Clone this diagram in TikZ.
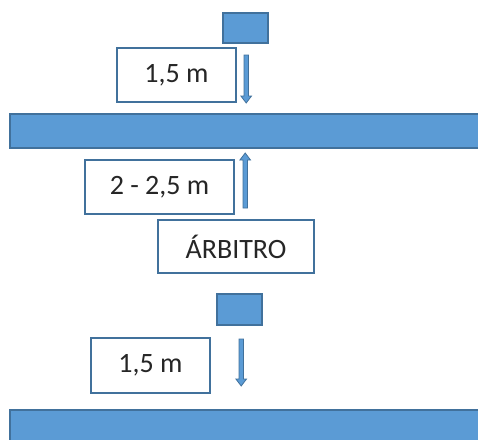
\documentclass[tikz,border=0pt]{standalone}
\usepackage{fontspec}
\setmainfont{Carlito}
\definecolor{bfill}{HTML}{5B9BD5}
\definecolor{bline}{HTML}{41719C}
\begin{document}
\begin{tikzpicture}[x=1pt,y=-1pt,
  solid/.style={fill=bfill,draw=bline,line width=1.2pt},
  lbox/.style={draw=bline,line width=1.2pt,fill=white,font=\fontsize{28}{32}\selectfont,text=black!85}]
\useasboundingbox (0,0) rectangle (478,439);
% top square
\draw[solid] (223,13) rectangle (268,43);
% label box 1
\draw[lbox] (117,48) rectangle (236,102) node[midway] (l1) {1,5 m};
% arrow down 1
\draw[solid,line width=0.8pt] (244,55) -- (248.5,55) -- (248.5,96) -- (251.5,96) -- (246.2,103) -- (240.9,96) -- (244,96) -- cycle;
% bar 1
\draw[solid] (10,114) rectangle (490,148);
% label box 2
\draw[lbox] (85,160) rectangle (234,214) node[midway] (l2) {2 - 2,5 m};
% arrow up
\draw[solid,line width=0.8pt] (243,208) -- (247.5,208) -- (247.5,160) -- (250.5,160) -- (245.2,153) -- (239.9,160) -- (243,160) -- cycle;
% arbitro
\draw[lbox] (158,220) rectangle (314,273) node[midway] (ar) {ÁRBITRO};
% second square
\draw[solid] (217,294) rectangle (262,325);
% label box 3
\draw[lbox] (91,338) rectangle (210,393) node[midway] (l3) {1,5 m};
% arrow down 2
\draw[solid,line width=0.8pt] (239,339) -- (243.5,339) -- (243.5,379) -- (246.5,379) -- (241.2,386) -- (235.9,379) -- (239,379) -- cycle;
% bar 2
\draw[solid] (10,410) rectangle (490,450);
\end{tikzpicture}
\end{document}
